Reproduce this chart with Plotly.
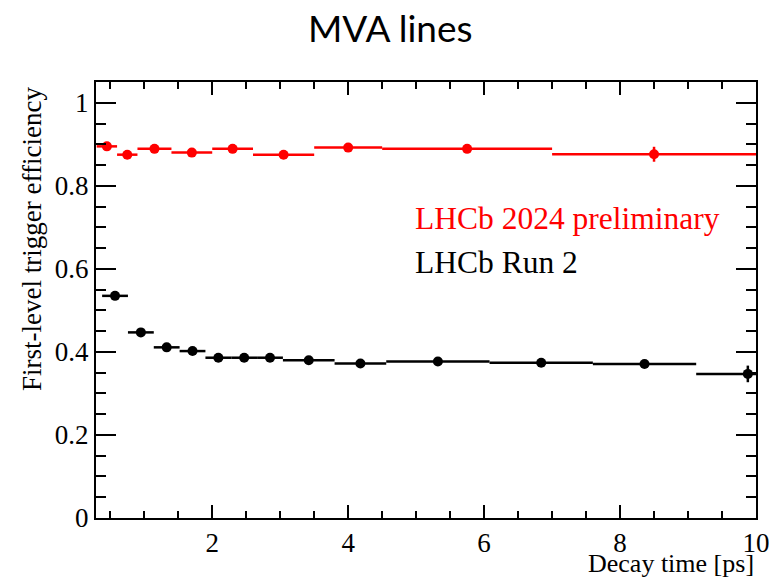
import plotly.graph_objects as go

# ---- data ----
red_edges = [0.30, 0.60, 0.90, 1.40, 2.00, 2.60, 3.50, 4.50, 7.00, 10.00]
red_eff = [0.895, 0.875, 0.889, 0.880, 0.889, 0.875, 0.892, 0.889, 0.876]
red_err = [0.004, 0.004, 0.004, 0.004, 0.004, 0.004, 0.004, 0.004, 0.018]

black_edges = [0.38, 0.76, 1.14, 1.52, 1.90, 2.28, 2.66, 3.04, 3.80, 4.56, 6.08, 7.60, 9.12, 10.64]
black_eff = [0.535, 0.447, 0.411, 0.402, 0.386, 0.386, 0.386, 0.380, 0.372, 0.377, 0.374, 0.371, 0.347]
black_err = [0.006, 0.005, 0.005, 0.005, 0.004, 0.004, 0.004, 0.004, 0.004, 0.005, 0.005, 0.006, 0.020]

x_ticks = [2, 4, 6, 8, 10]
y_ticks = [0, 0.2, 0.4, 0.6, 0.8, 1]
y_ticktext = ["0", "0.2", "0.4", "0.6", "0.8", "1"]

title_text = "MVA lines"
x_title = "Decay time [ps]"
y_title = "First-level trigger efficiency"
red_label = "LHCb 2024 preliminary"
black_label = "LHCb Run 2"

SERIF = "Liberation Serif"


def centers(edges):
    return [(a + b) / 2 for a, b in zip(edges[:-1], edges[1:])]


def halfw(edges):
    return [(b - a) / 2 for a, b in zip(edges[:-1], edges[1:])]


fig = go.Figure()

for edges, eff, err, col in [
    (black_edges, black_eff, black_err, "black"),
    (red_edges, red_eff, red_err, "#ff0000"),
]:
    fig.add_trace(go.Scatter(
        x=centers(edges), y=eff, mode="markers",
        marker=dict(color=col, size=10, symbol="circle"),
        error_x=dict(type="data", array=halfw(edges), arrayminus=halfw(edges),
                     color=col, thickness=2.5, width=0),
        error_y=dict(type="data", array=err, color=col, thickness=2.5, width=0),
        cliponaxis=True, showlegend=False, hoverinfo="skip",
    ))

fig.update_xaxes(
    range=[0.29, 10], tickmode="array", tickvals=x_ticks, ticklen=13,
    showline=True, linecolor="black", linewidth=2, mirror="ticks",
    ticks="inside", tickcolor="black", tickwidth=2,
    showgrid=False, zeroline=False, ticklabeloverflow="allow",
    tickfont=dict(family=SERIF, size=27, color="black"),
    minor=dict(dtick=0.5, tick0=0, ticks="inside", ticklen=7, tickwidth=2,
               tickcolor="black", showgrid=False),
)
fig.update_yaxes(
    range=[0, 1.05], tickmode="array", tickvals=y_ticks, ticktext=y_ticktext, ticklen=20,
    showline=True, linecolor="black", linewidth=2, mirror="ticks",
    ticks="inside", tickcolor="black", tickwidth=2,
    showgrid=False, zeroline=False,
    tickfont=dict(family=SERIF, size=27, color="black"),
    minor=dict(dtick=0.05, tick0=0, ticks="inside", ticklen=10, tickwidth=2,
               tickcolor="black", showgrid=False),
)

fig.add_annotation(text=title_text, xref="paper", yref="paper",
                   x=(390 - 96) / 660, y=(517.5 - 28) / 435.5,
                   xanchor="center", yanchor="middle", showarrow=False,
                   font=dict(family="Lato", size=37, color="black"))
fig.add_annotation(text=x_title, xref="paper", yref="paper",
                   x=(756 - 96) / 660, y=(517.5 - 563) / 435.5,
                   xanchor="right", yanchor="middle", showarrow=False,
                   font=dict(family=SERIF, size=26, color="black"))
fig.add_annotation(text=y_title, xref="paper", yref="paper",
                   x=(32 - 96) / 660, y=(517.5 - 85) / 435.5,
                   xanchor="center", yanchor="top", textangle=-90, showarrow=False,
                   font=dict(family=SERIF, size=27, color="black"))
fig.add_annotation(text=red_label, xref="paper", yref="paper",
                   x=(413 - 96) / 660, y=(517.5 - 218) / 435.5,
                   xanchor="left", yanchor="middle", showarrow=False,
                   font=dict(family=SERIF, size=31.5, color="#ff0000"))
fig.add_annotation(text=black_label, xref="paper", yref="paper",
                   x=(413 - 96) / 660, y=(517.5 - 262) / 435.5,
                   xanchor="left", yanchor="middle", showarrow=False,
                   font=dict(family=SERIF, size=31.5, color="black"))

fig.update_layout(
    width=769, height=578,
    margin=dict(l=96, r=13, t=82, b=60, pad=0, autoexpand=False),
    paper_bgcolor="white", plot_bgcolor="white",
    font=dict(family=SERIF, size=27, color="black"),
    showlegend=False,
)

fig.write_html("out.html", config={"displayModeBar": False},
               post_script="document.body.style.margin='0';")
